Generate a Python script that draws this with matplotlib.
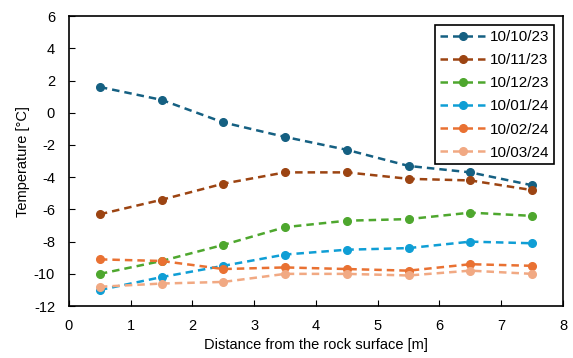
import matplotlib.pyplot as plt

plt.rcParams['font.family'] = ['Liberation Sans', 'DejaVu Sans']
plt.rcParams['axes.unicode_minus'] = False

distance = [0.5, 1.5, 2.5, 3.5, 4.5, 5.5, 6.5, 7.5]
dates = ['10/10/23', '10/11/23', '10/12/23', '10/01/24', '10/02/24', '10/03/24']
t_oct23 = [1.6, 0.8, -0.6, -1.5, -2.3, -3.3, -3.7, -4.5]
t_nov23 = [-6.3, -5.4, -4.4, -3.7, -3.7, -4.1, -4.2, -4.8]
t_dec23 = [-10.0, -9.2, -8.2, -7.1, -6.7, -6.6, -6.2, -6.4]
t_jan24 = [-11.0, -10.2, -9.5, -8.8, -8.5, -8.4, -8.0, -8.1]
t_feb24 = [-9.1, -9.2, -9.7, -9.6, -9.7, -9.8, -9.4, -9.5]
t_mar24 = [-10.8, -10.6, -10.5, -10.0, -10.0, -10.1, -9.8, -10.0]
colores = ['#156082', '#9C4412', '#4EA72E', '#0F9ED5', '#E97132', '#F1A983']

series = [t_oct23, t_nov23, t_dec23, t_jan24, t_feb24, t_mar24]

fig, ax = plt.subplots(figsize=(5.73, 3.58), dpi=100)
fig.subplots_adjust(left=0.1204, right=0.9825, top=0.955, bottom=0.145)

for vals, lab, c in zip(series, dates, colores):
    ax.plot(distance, vals, '--o', color=c, label=lab, lw=1.8,
            markersize=5.5, dashes=(3, 2))

ax.set_xlim(0, 8)
ax.set_ylim(-12, 6)
ax.set_xticks(range(0, 9))
ax.set_yticks(range(-12, 7, 2))
ax.tick_params(direction='in', labelsize=10.5, length=4)
ax.tick_params(axis='x', pad=9)
ax.tick_params(axis='y', pad=10)
for s in ax.spines.values():
    s.set_linewidth(1.2)

ax.set_xlabel('Distance from the rock surface [m]', fontsize=10.5, labelpad=4)
ax.set_ylabel('Temperature [°C]', fontsize=10.5, labelpad=3)

leg = ax.legend(loc='upper right', fontsize=11, fancybox=False,
                edgecolor='black', framealpha=1, borderaxespad=0.6,
                handlelength=3.0, handletextpad=0.25, labelspacing=0.6,
                borderpad=0.3)
leg.get_frame().set_linewidth(1.2)

fig.savefig('out.png')
